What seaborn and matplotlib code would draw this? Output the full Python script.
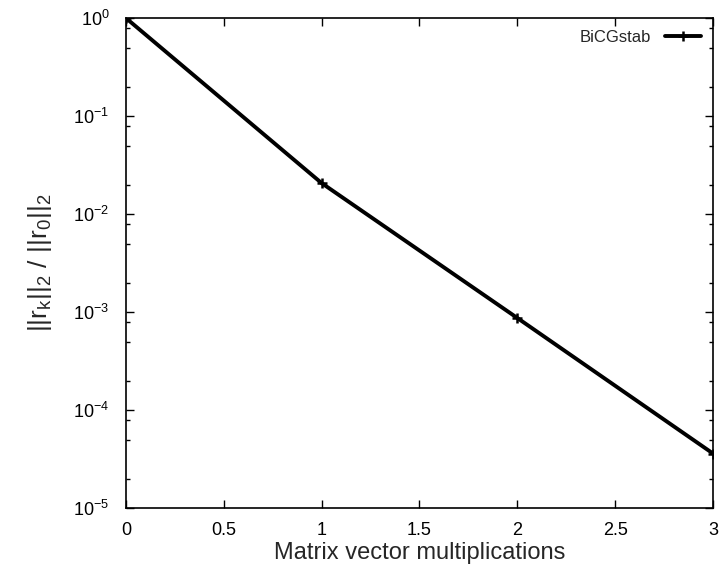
import matplotlib
matplotlib.use("Agg")
import matplotlib.pyplot as plt
import matplotlib.ticker as mticker
import seaborn as sns
import pandas as pd

# Data
iterations = [0, 1, 2, 3]
residuals = [1.0, 0.0207, 8.7e-4, 3.6e-5]
series_name = "BiCGstab"

sns.set_style("ticks")
plt.rcParams['font.family'] = ['Liberation Sans', 'DejaVu Sans']
plt.rcParams['mathtext.fontset'] = 'custom'
plt.rcParams['mathtext.rm'] = 'Liberation Sans'
plt.rcParams['mathtext.it'] = 'Liberation Sans'
plt.rcParams['mathtext.bf'] = 'Liberation Sans:bold'

df = pd.DataFrame({"x": iterations, "y": residuals, "method": series_name})

fig = plt.figure(figsize=(7.22, 5.75), dpi=100)
ax = fig.add_axes([0.1745, 0.1165, 0.813, 0.852])

sns.lineplot(data=df, x="x", y="y", hue="method", palette=["black"],
             marker="+", markersize=7, markeredgewidth=1.8,
             markeredgecolor="black", linewidth=2.8, ax=ax)

ax.set_yscale("log")
ax.set_xlim(0, 3)
ax.set_ylim(1e-5, 1)
ax.set_xticks([0, 0.5, 1, 1.5, 2, 2.5, 3])
ax.set_xticklabels(["0", "0.5", "1", "1.5", "2", "2.5", "3"])
ax.yaxis.set_major_locator(mticker.LogLocator(base=10, numticks=10))
ax.yaxis.set_minor_locator(mticker.LogLocator(base=10, subs=(2.0, 5.0, 8.0), numticks=10))
ax.yaxis.set_minor_formatter(mticker.NullFormatter())

for s in ax.spines.values():
    s.set_visible(True)
    s.set_linewidth(1.2)
    s.set_color("black")

ax.tick_params(which="both", direction="in", top=True, right=True,
               colors="black", labelsize=13, width=1)
ax.tick_params(which="major", length=6)
ax.tick_params(axis="x", which="major", pad=10)
ax.tick_params(axis="y", which="major", pad=12)
ax.tick_params(which="minor", length=3)

ax.set_xlabel("Matrix vector multiplications", fontsize=17, labelpad=2)
ax.set_ylabel(r"$||\mathrm{r_k}||_2\ /\ ||\mathrm{r_0}||_2$", fontsize=19, labelpad=14)

leg = ax.legend(loc="upper right", frameon=False, markerfirst=False, fontsize=12,
                handlelength=2.2, borderaxespad=0.3, title=None)
for h in leg.legend_handles:
    h.set_markeredgecolor("black")

fig.savefig("out.png", dpi=100)
